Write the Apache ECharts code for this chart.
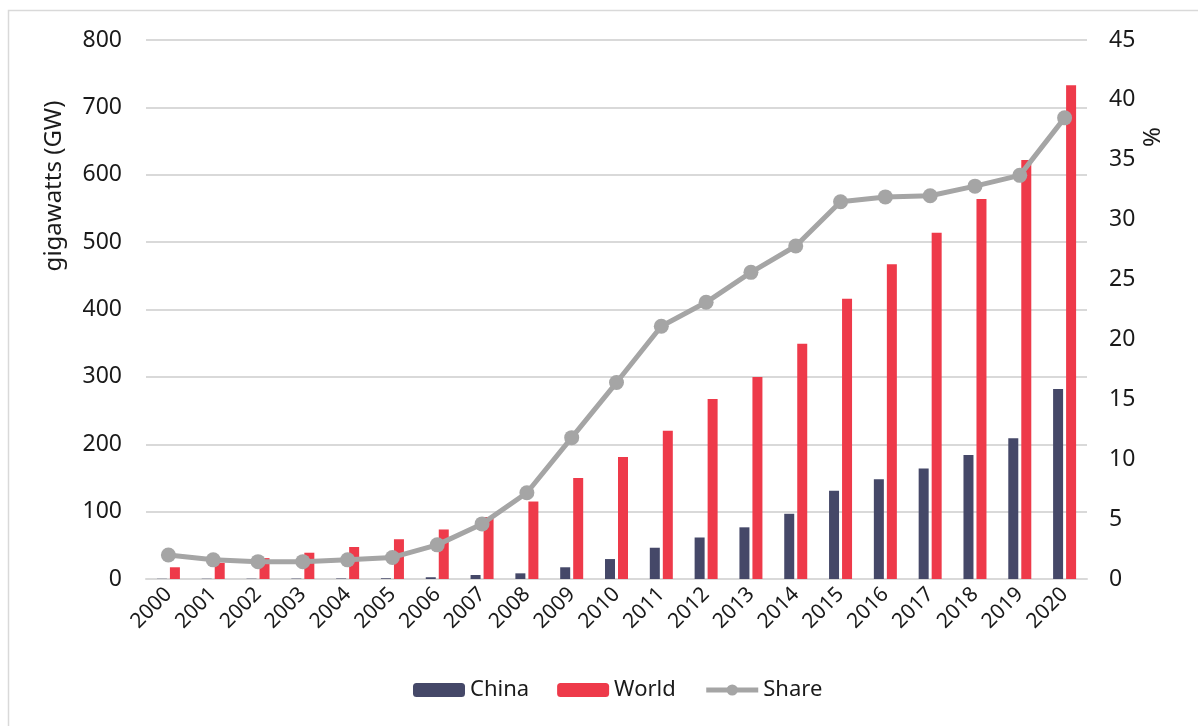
<!DOCTYPE html>
<html>
<head>
<meta charset="utf-8">
<script src="https://cdn.jsdelivr.net/npm/echarts@6/dist/echarts.min.js"></script>
<style>html,body{margin:0;padding:0;background:#fff;}#c{width:1198px;height:726px;}</style>
</head>
<body>
<div id="c"></div>
<script>
const years = ['2000','2001','2002','2003','2004','2005','2006','2007','2008','2009','2010','2011','2012','2013','2014','2015','2016','2017','2018','2019','2020'];
const china = [0.34,0.38,0.47,0.57,0.76,1.06,2.6,5.9,8.4,17.4,29.6,46.4,61.6,76.7,96.8,131,148,164,184,209,282];
const world = [17.4,24,31,39,47.5,59,73.5,92,115,150,181,220,267,300,349,416,467,514,564,622,733];
const share = [2.0,1.6,1.45,1.45,1.6,1.8,2.85,4.6,7.2,11.8,16.4,21.1,23.1,25.6,27.8,31.5,31.9,32.0,32.8,33.7,38.5];
const leftTicks = {min:0, max:800, interval:100};
const rightTicks = {min:0, max:45, interval:5};

const FONT = '"Noto Sans", sans-serif';
const chart = echarts.init(document.getElementById('c'), null, {renderer:'canvas'});
chart.setOption({
  backgroundColor:'#fff',
  animation:false,
  textStyle:{fontFamily:FONT},
  grid:{left:146, right:111, top:40, bottom:147, containLabel:false},
  graphic:[
    {type:'rect', shape:{x:8.5,y:10.5,width:1200,height:730}, style:{fill:'none', stroke:'#d9d9d9', lineWidth:1.5}},
    {type:'text', x:54, y:186, rotation:Math.PI/2, style:{text:'gigawatts (GW)', fontFamily:FONT, fontSize:24, fill:'#1a1a1a', align:'center', verticalAlign:'middle'}},
    {type:'text', x:1153, y:137, rotation:Math.PI/2, style:{text:'%', fontFamily:FONT, fontSize:24, fill:'#1a1a1a', align:'center', verticalAlign:'middle'}}
  ],
  legend:{
    bottom:20, left:408, itemWidth:52, itemHeight:14, itemGap:28,
    textStyle:{fontFamily:FONT, fontSize:22, color:'#1a1a1a'},
    data:['China','World',{name:'Share', lineStyle:{width:5, color:'#a5a5a5'}, itemStyle:{color:'#a5a5a5'}}]
  },
  xAxis:{
    type:'category', data:years,
    axisLine:{show:true, lineStyle:{color:'#d9d9d9', width:2}},
    axisTick:{show:false},
    axisLabel:{rotate:45, fontSize:21, color:'#1a1a1a', margin:12, fontFamily:FONT}
  },
  yAxis:[
    {type:'value', min:leftTicks.min, max:leftTicks.max, interval:leftTicks.interval,
     axisLine:{show:false}, axisTick:{show:false},
     axisLabel:{fontSize:23, color:'#1a1a1a', margin:24, fontFamily:FONT},
     splitLine:{lineStyle:{color:'#d9d9d9', width:2}}},
    {type:'value', min:rightTicks.min, max:rightTicks.max, interval:rightTicks.interval,
     axisLine:{show:false}, axisTick:{show:false},
     axisLabel:{fontSize:23, color:'#1a1a1a', margin:22, fontFamily:FONT},
     splitLine:{show:false}}
  ],
  series:[
    {name:'China', type:'bar', data:china, barWidth:10, barGap:'30%', itemStyle:{color:'#454868'}},
    {name:'World', type:'bar', data:world, barWidth:10, barGap:'30%', itemStyle:{color:'#ee3a4a'}},
    {name:'Share', type:'line', yAxisIndex:1, data:share, symbol:'circle', symbolSize:15,
     lineStyle:{color:'#a5a5a5', width:5}, itemStyle:{color:'#a5a5a5'}, z:5}
  ]
});
</script>
</body>
</html>
